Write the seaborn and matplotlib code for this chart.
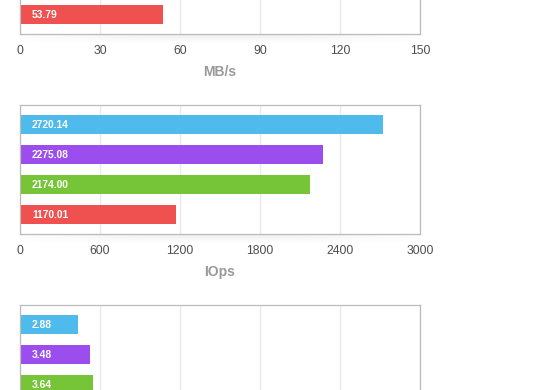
import numpy as np
import pandas as pd
import matplotlib
matplotlib.use("Agg")
import matplotlib.pyplot as plt
import seaborn as sns

# categories (one bar per test, same order and colour in every panel)
cats = ["Test 1", "Test 2", "Test 3", "Test 4"]
colors = ["#4fbbed", "#9b4dee", "#76c538", "#ef5050"]

# throughput panel: only the last bar is visible in the screenshot
mbs_cats = ["Test 4"]
mbs_vals = [53.79]
mbs_ticks = [0, 30, 60, 90, 120, 150]

# IOps panel
iops_cats = ["Test 1", "Test 2", "Test 3", "Test 4"]
iops_vals = [2720.14, 2275.08, 2174.00, 1170.01]
iops_ticks = [0, 600, 1200, 1800, 2400, 3000]

# third panel: the last bar is cut off below
lat_cats = ["Test 1", "Test 2", "Test 3"]
lat_vals = [2.88, 3.48, 3.64]
lat_ticks = [0, 4, 8, 12, 16, 20]

sns.set_style("white")
plt.rcParams["font.family"] = ["Liberation Sans", "DejaVu Sans"]

fig = plt.figure(figsize=(5.6, 3.9), dpi=100)
W, H = 560, 390


def shadow(bottom_px):
    # soft shadow under the plot frame
    sax = fig.add_axes([20 / W, (H - bottom_px - 12) / H, 400 / W, 12 / H])
    sax.set_zorder(-1)
    yy = np.linspace(0, 1, 12)[:, None]
    xx = np.linspace(-1, 1, 200)[None, :]
    alpha = 0.07 * (1 - yy) ** 1.5 * np.clip(1.3 - np.abs(xx), 0, 1)
    img = np.zeros((12, 200, 4))
    img[..., 3] = alpha
    sax.imshow(img, aspect="auto", extent=(0, 1, 0, 1))
    sax.axis("off")


def panel(top_px, names, vals, ticks, xlabel, show_ticks=True):
    ax = fig.add_axes([20 / W, (H - top_px - 129) / H, 400 / W, 129 / H])
    df = pd.DataFrame({"cat": names, "val": vals})
    sns.barplot(data=df, x="val", y="cat", order=cats, hue="cat",
                hue_order=cats, palette=dict(zip(cats, colors)),
                saturation=1, width=0.63, legend=False, ax=ax, linewidth=0)
    ax.set_xlim(ticks[0], ticks[-1])
    ax.set_ylim(3.65, -0.65)
    ax.set_xticks(ticks)
    ax.set_yticks([])
    ax.set_ylabel("")
    ax.grid(axis="x", color="#e9e9e9", linewidth=1)
    ax.set_axisbelow(True)
    for s in ax.spines.values():
        s.set_color("#bbbbbb")
        s.set_linewidth(0.9)
    ax.tick_params(axis="x", length=0, pad=8, labelcolor="#4d4d4d",
                   labelsize=8.8, labelbottom=show_ticks)
    ax.set_xlabel(xlabel, color="#999999", fontsize=10, fontweight="bold", labelpad=6)
    for n, v in zip(names, vals):
        ax.annotate(f"{v:.2f}", xy=(0, cats.index(n)), xytext=(12, 0),
                    textcoords="offset pixels", va="center", ha="left",
                    color="white", fontsize=7.4, fontweight="bold")
    shadow(top_px + 129)
    return ax


panel(-95, mbs_cats, mbs_vals, mbs_ticks, "MB/s")
panel(105, iops_cats, iops_vals, iops_ticks, "IOps")
# ticks of the third panel fall below the visible area
panel(305, lat_cats, lat_vals, lat_ticks, "", show_ticks=False)

fig.savefig("out.png", dpi=100)
